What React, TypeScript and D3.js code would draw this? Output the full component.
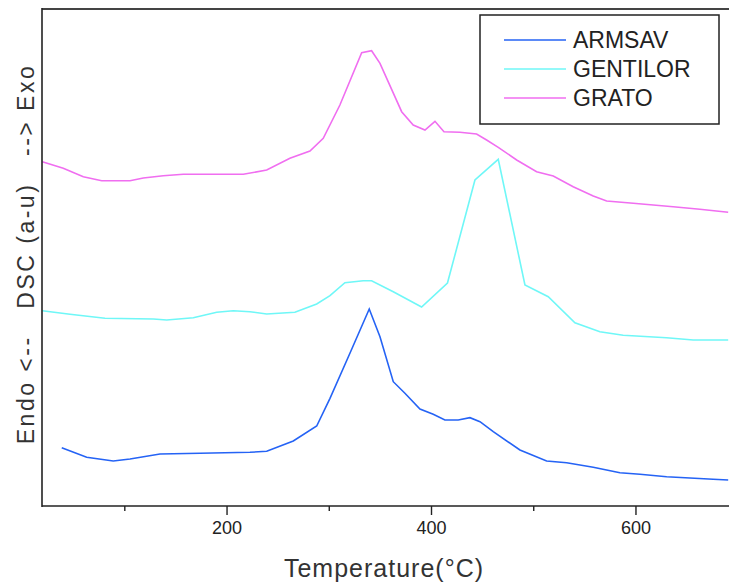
import React from "react";
import * as d3 from "d3";

// Temperatures (°C) and DSC signal (arbitrary units)
const armsavT = [38.3, 62.7, 88.7, 105.1, 134.4, 173.5, 222.4, 238.8, 264.8, 287.7, 300.7, 320.2, 339.1, 349.6, 362.6, 374, 388.7, 401.7, 413.1, 426.1, 437.6, 447.4, 460.4, 486.5, 512.6, 532.2, 558.2, 584.3, 603.9, 630, 675.5, 690.2];
const armsavV = [58.3, 48.7, 45, 47, 52, 52.7, 53.7, 54.7, 65, 80, 107.7, 152.7, 197, 169.3, 124.3, 112.7, 97, 91.7, 86, 86, 88.3, 84.3, 74.3, 56, 45, 43.3, 38.7, 33.3, 31.7, 29.3, 26.7, 26];

const gentilorT = [19.3, 46.4, 80.6, 127.9, 141, 167, 189.9, 206.1, 222.4, 238.8, 266.4, 287.7, 300.7, 315.3, 333.2, 341.4, 362.6, 390.3, 415.6, 442.5, 465.3, 491.4, 514.2, 540.3, 564.7, 587.5, 629.9, 656, 690.2];
const gentilorV = [195.3, 191.7, 187.7, 187, 186, 188.3, 193.7, 195.3, 194.3, 192, 193.7, 202, 210.3, 223.3, 225.3, 225.3, 214.3, 199, 223, 326, 346.7, 221, 209.3, 183.3, 174.3, 170.7, 168.3, 166, 166];

const gratoT = [19.3, 39.8, 59.4, 77.4, 105.1, 118.1, 137.6, 157.2, 215.9, 238.8, 261.5, 281.1, 294.1, 310.4, 331.7, 341.4, 349.6, 370.8, 382.1, 393.6, 403.4, 412.2, 427.8, 444.1, 453.9, 465.3, 483.3, 502.8, 519.1, 538.6, 558.2, 571.3, 597.3, 636.4, 662.5, 690.2];
const gratoV = [344.3, 337.7, 329.3, 325.3, 325.3, 328, 330.3, 331.7, 331.7, 336, 347.7, 355, 367.7, 401, 453.3, 455.3, 442.7, 394.3, 381, 376, 384.7, 374.3, 373.7, 372, 366, 358.7, 346, 334.3, 330, 319.3, 310, 305, 302.7, 299.3, 296.7, 293.7];

const seriesNames = ["ARMSAV", "GENTILOR", "GRATO"];
const seriesColors = ["#2563f5", "#6ff7f7", "#f06ef0"];
const majorTicks = [200, 400, 600];
const minorTicks = [100, 300, 500];
const xDomain = [19, 691];
const yDomain = [0, 497];

const W = 729;
const H = 584;
const left = 42;
const right = 729;
const top = 9;
const bottom = 506;
const FONT = "'Liberation Sans', Arial, sans-serif";

export default function App() {
  const x = d3.scaleLinear().domain(xDomain).range([left, right]);
  const y = d3.scaleLinear().domain(yDomain).range([bottom, top]);
  const line = d3
    .line<[number, number]>()
    .x((d) => x(d[0]))
    .y((d) => y(d[1]));

  const series = [
    { T: armsavT, V: armsavV },
    { T: gentilorT, V: gentilorV },
    { T: gratoT, V: gratoV },
  ];

  return (
    <svg
      width={W}
      height={H}
      style={{ position: "absolute", left: 0, top: 0, background: "#fff" }}
      fontFamily={FONT}
    >
      <defs>
        <clipPath id="plotclip">
          <rect x={left} y={top} width={right - left} height={bottom - top} />
        </clipPath>
      </defs>
      <g clipPath="url(#plotclip)">
        {series.map((s, i) => (
          <path
            key={seriesNames[i]}
            d={line(s.T.map((t, j) => [t, s.V[j]] as [number, number])) || ""}
            fill="none"
            stroke={seriesColors[i]}
            strokeWidth={1.6}
          />
        ))}
      </g>
      {/* frame */}
      <line x1={left} x2={right} y1={top} y2={top} stroke="#444" strokeWidth={2} />
      <line x1={left} x2={left} y1={top - 1} y2={bottom + 1} stroke="#222" strokeWidth={1.6} />
      <line x1={left} x2={right} y1={bottom} y2={bottom} stroke="#222" strokeWidth={1.6} />
      {/* ticks */}
      {minorTicks.map((t) => (
        <line key={"m" + t} x1={x(t)} x2={x(t)} y1={bottom} y2={bottom + 5} stroke="#222" strokeWidth={1.4} />
      ))}
      {majorTicks.map((t) => (
        <g key={"M" + t}>
          <line x1={x(t)} x2={x(t)} y1={bottom} y2={bottom + 9} stroke="#222" strokeWidth={1.4} />
          <text x={x(t)} y={534} textAnchor="middle" fontSize={18} fill="#222">
            {t}
          </text>
        </g>
      ))}
      <text x={384} y={577} textAnchor="middle" fontSize={25} letterSpacing={1} fill="#333">
        Temperature(°C)
      </text>
      <text
        transform="translate(34,254) rotate(-90)"
        textAnchor="middle"
        fontSize={23}
        letterSpacing={2.5}
        fill="#333"
        style={{ whiteSpace: "pre" }}
      >
        {"Endo <--   DSC (a-u)   --> Exo"}
      </text>
      {/* legend */}
      <rect x={480} y={15} width={239} height={109} fill="#fff" stroke="#222" strokeWidth={1.5} />
      {seriesNames.map((n, i) => (
        <g key={"lg" + n}>
          <line x1={504} x2={566} y1={40 + i * 29} y2={40 + i * 29} stroke={seriesColors[i]} strokeWidth={1.5} />
          <text x={573} y={48 + i * 29} fontSize={23} fill="#222">
            {n}
          </text>
        </g>
      ))}
    </svg>
  );
}
